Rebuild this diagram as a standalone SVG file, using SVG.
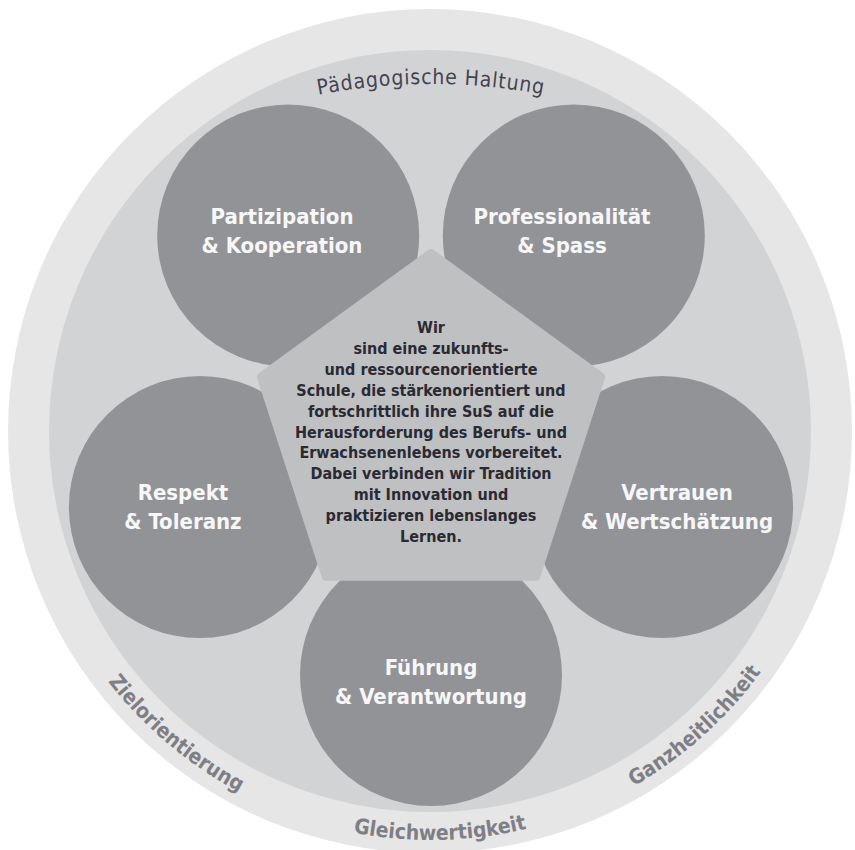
<svg xmlns="http://www.w3.org/2000/svg" width="855" height="850" viewBox="0 0 855 850">
  <style>
    .ring-outer { fill: #e6e6e7; }
    .ring-inner { fill: #d2d3d5; }
    .petal { fill: #929397; }
    .core { fill: #bfc0c2; stroke: #bfc0c2; stroke-width: 8; stroke-linejoin: round; }
    .label { font-family: "DejaVu Sans Condensed", "DejaVu Sans", sans-serif; font-stretch: condensed; font-weight: bold; font-size: 22px; fill: #f7f7f7; text-anchor: middle; }
    .core-text { font-family: "DejaVu Sans Condensed", "DejaVu Sans", sans-serif; font-stretch: condensed; font-weight: bold; font-size: 16px; fill: #2a2a33; text-anchor: middle; }
    .arc-top { font-family: "DejaVu Sans Condensed", "DejaVu Sans", sans-serif; font-stretch: condensed; font-size: 21px; fill: #44444f; letter-spacing: 0.8px; text-anchor: middle; }
    .arc-bottom { font-family: "DejaVu Sans Condensed", "DejaVu Sans", sans-serif; font-stretch: condensed; font-weight: bold; font-size: 21px; fill: #7e7f85; text-anchor: middle; }
  </style>
  <defs>
    <path id="arcTop" d="M -169,684 A 600 600 0 0 1 1031,684"/>
    <path id="arcBottom" d="M 23,432 A 408 408 0 0 0 839,432"/>
  </defs>

  <g id="background">
    <circle class="ring-outer" cx="430" cy="431" r="422"/>
    <circle class="ring-inner" cx="430" cy="431" r="381"/>
  </g>

  <g id="connectors"/>

  <g id="node-partizipation">
    <circle class="petal" cx="288.2" cy="235.4" r="131"/>
    <text class="label" x="282" y="224">Partizipation</text>
    <text class="label" x="282" y="253">&amp; Kooperation</text>
  </g>

  <g id="node-professionalitaet">
    <circle class="petal" cx="573.8" cy="235.4" r="131"/>
    <text class="label" x="562" y="224">Professionalität</text>
    <text class="label" x="562" y="253">&amp; Spass</text>
  </g>

  <g id="node-respekt">
    <circle class="petal" cx="199.9" cy="507.1" r="131"/>
    <text class="label" x="183" y="500">Respekt</text>
    <text class="label" x="183" y="529">&amp; Toleranz</text>
  </g>

  <g id="node-vertrauen">
    <circle class="petal" cx="662.1" cy="507.1" r="131"/>
    <text class="label" x="677" y="500">Vertrauen</text>
    <text class="label" x="677" y="529">&amp; Wertschätzung</text>
  </g>

  <g id="node-fuehrung">
    <circle class="petal" cx="431" cy="675" r="131"/>
    <text class="label" x="431" y="675">Führung</text>
    <text class="label" x="431" y="704">&amp; Verantwortung</text>
  </g>

  <g id="node-leitbild">
    <polygon class="core" points="431,253 601.2,376.7 536.2,576.8 325.8,576.8 260.8,376.7"/>
    <text class="core-text" x="431" y="333">Wir</text>
    <text class="core-text" x="431" y="354">sind eine zukunfts-</text>
    <text class="core-text" x="431" y="375">und ressourcenorientierte</text>
    <text class="core-text" x="431" y="396">Schule, die stärkenorientiert und</text>
    <text class="core-text" x="431" y="417">fortschrittlich ihre SuS auf die</text>
    <text class="core-text" x="431" y="438">Herausforderung des Berufs- und</text>
    <text class="core-text" x="431" y="458">Erwachsenenlebens vorbereitet.</text>
    <text class="core-text" x="431" y="479">Dabei verbinden wir Tradition</text>
    <text class="core-text" x="431" y="500">mit Innovation und</text>
    <text class="core-text" x="431" y="521">praktizieren lebenslanges</text>
    <text class="core-text" x="431" y="542">Lernen.</text>
  </g>

  <g id="label-paedagogische-haltung">
    <text class="arc-top"><textPath href="#arcTop" startOffset="50%">Pädagogische Haltung</textPath></text>
  </g>
  <g id="label-zielorientierung">
    <text class="arc-bottom"><textPath href="#arcBottom" startOffset="27.67%">Zielorientierung</textPath></text>
  </g>
  <g id="label-gleichwertigkeit">
    <text class="arc-bottom"><textPath href="#arcBottom" startOffset="50.72%">Gleichwertigkeit</textPath></text>
  </g>
  <g id="label-ganzheitlichkeit">
    <text class="arc-bottom"><textPath href="#arcBottom" startOffset="73.28%">Ganzheitlichkeit</textPath></text>
  </g>
</svg>
